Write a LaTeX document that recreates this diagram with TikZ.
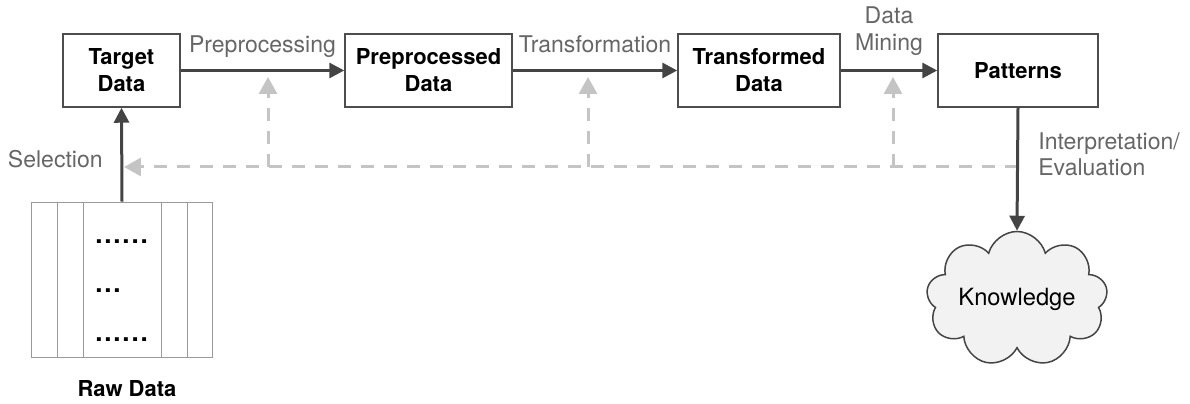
\documentclass[tikz,border=0pt]{standalone}
\usepackage{fontspec}
\setmainfont{TeX Gyre Heros}
\usetikzlibrary{arrows.meta,shapes.symbols,positioning}
\definecolor{darkline}{HTML}{444444}
\definecolor{boxline}{HTML}{4D4D4D}
\definecolor{labelgray}{HTML}{666666}
\definecolor{dashgray}{HTML}{C4C4C4}
\definecolor{rawgray}{HTML}{9A9A9A}
\definecolor{cloudfill}{HTML}{F2F2F2}
\tikzset{
        databox/.style={draw=boxline, line width=0.03cm, fill=white, align=center,
                font=\bfseries, inner sep=0pt, minimum height=1.46cm},
        flow/.style={draw=darkline, line width=0.06cm,
                -{Triangle[length=0.3cm,width=0.3cm]}},
        feedback/.style={draw=dashgray, line width=0.06cm, dash pattern=on 0.26cm off 0.2cm,
                -{Triangle[length=0.34cm,width=0.36cm]}},
        steplabel/.style={text=labelgray, align=left, inner sep=0pt,
                font=\fontsize{13.1}{15.4}\selectfont},
        rawdots/.style={anchor=west, inner sep=0pt,
                font=\bfseries\fontsize{14.8}{15}\selectfont\addfontfeature{LetterSpace=7}},
}

\begin{document}
\begin{tikzpicture}[x=0.02cm, y=-0.02cm]
                \fontsize{12.5}{15.4}\selectfont
                \useasboundingbox (0,0) rectangle (1190,404);

                \node[databox, minimum width=2.34cm] (target) at (121.5,70.5) {Target\\Data};
                \node[databox, minimum width=3.34cm] (prep) at (428.5,70.5) {Preprocessed\\Data};
                \node[databox, minimum width=3.24cm] (trans) at (759,70.5) {Transformed\\Data};
                \node[databox, minimum width=3.2cm] (patterns) at (1018,70.5) {Patterns};

                \node[draw=rawgray, line width=0.02cm, minimum width=3.64cm, minimum height=3.12cm,
                        inner sep=0pt] (raw) at (122,280) {};
                \foreach \x in {57,83,161,187}
                        \draw[rawgray, line width=0.02cm] (\x,202) -- (\x,358);
                \node[rawdots] (dots1) at (95,242) {......};
                \node[rawdots] (dots2) at (95,291) {...};
                \node[rawdots] (dots3) at (95,340) {......};
                \node[anchor=base, inner sep=0pt, font=\bfseries] (rawlabel) at (127,397) {Raw Data};

                \node[draw=darkline, line width=0.03cm, fill=cloudfill, shape=cloud, cloud puffs=9,
                        aspect=1.7, minimum width=3.6cm, minimum height=2.1cm, inner sep=0pt,
                        font=\fontsize{13.5}{15}\selectfont]
                        (knowledge) at (1017,299) {Knowledge};

                \coordinate (fb) at (1018,167);
                \coordinate (selhit) at (124,167);
                \coordinate (up1) at (268,77);
                \coordinate (up2) at (588,77);
                \coordinate (up3) at (893,77);

                \draw[feedback] (up1 |- fb) -- (up1);
                \draw[feedback] (up2 |- fb) -- (up2);
                \draw[feedback] (up3 |- fb) -- (up3);
                \draw[feedback] (fb) -- (selhit);

                \draw[flow] (raw.north) -- (target.south);
                \draw[flow] (target) -- node[steplabel, anchor=base, yshift=0.36cm] {Preprocessing} (prep);
                \draw[flow] (prep) -- node[steplabel, anchor=base, yshift=0.36cm] {Transformation} (trans);
                \draw[flow] (trans) -- node[steplabel, align=center, above=0.27cm] {Data\\Mining} (patterns);
                \draw[flow] (patterns.south) -- (knowledge.north);

                \node[steplabel, anchor=base east] (selection) at (103,168) {Selection};
                \node[steplabel, anchor=west, font=\fontsize{13.1}{14.6}\selectfont] (interp) at (1038,154) {Interpretation/\\Evaluation};
\end{tikzpicture}
\end{document}
